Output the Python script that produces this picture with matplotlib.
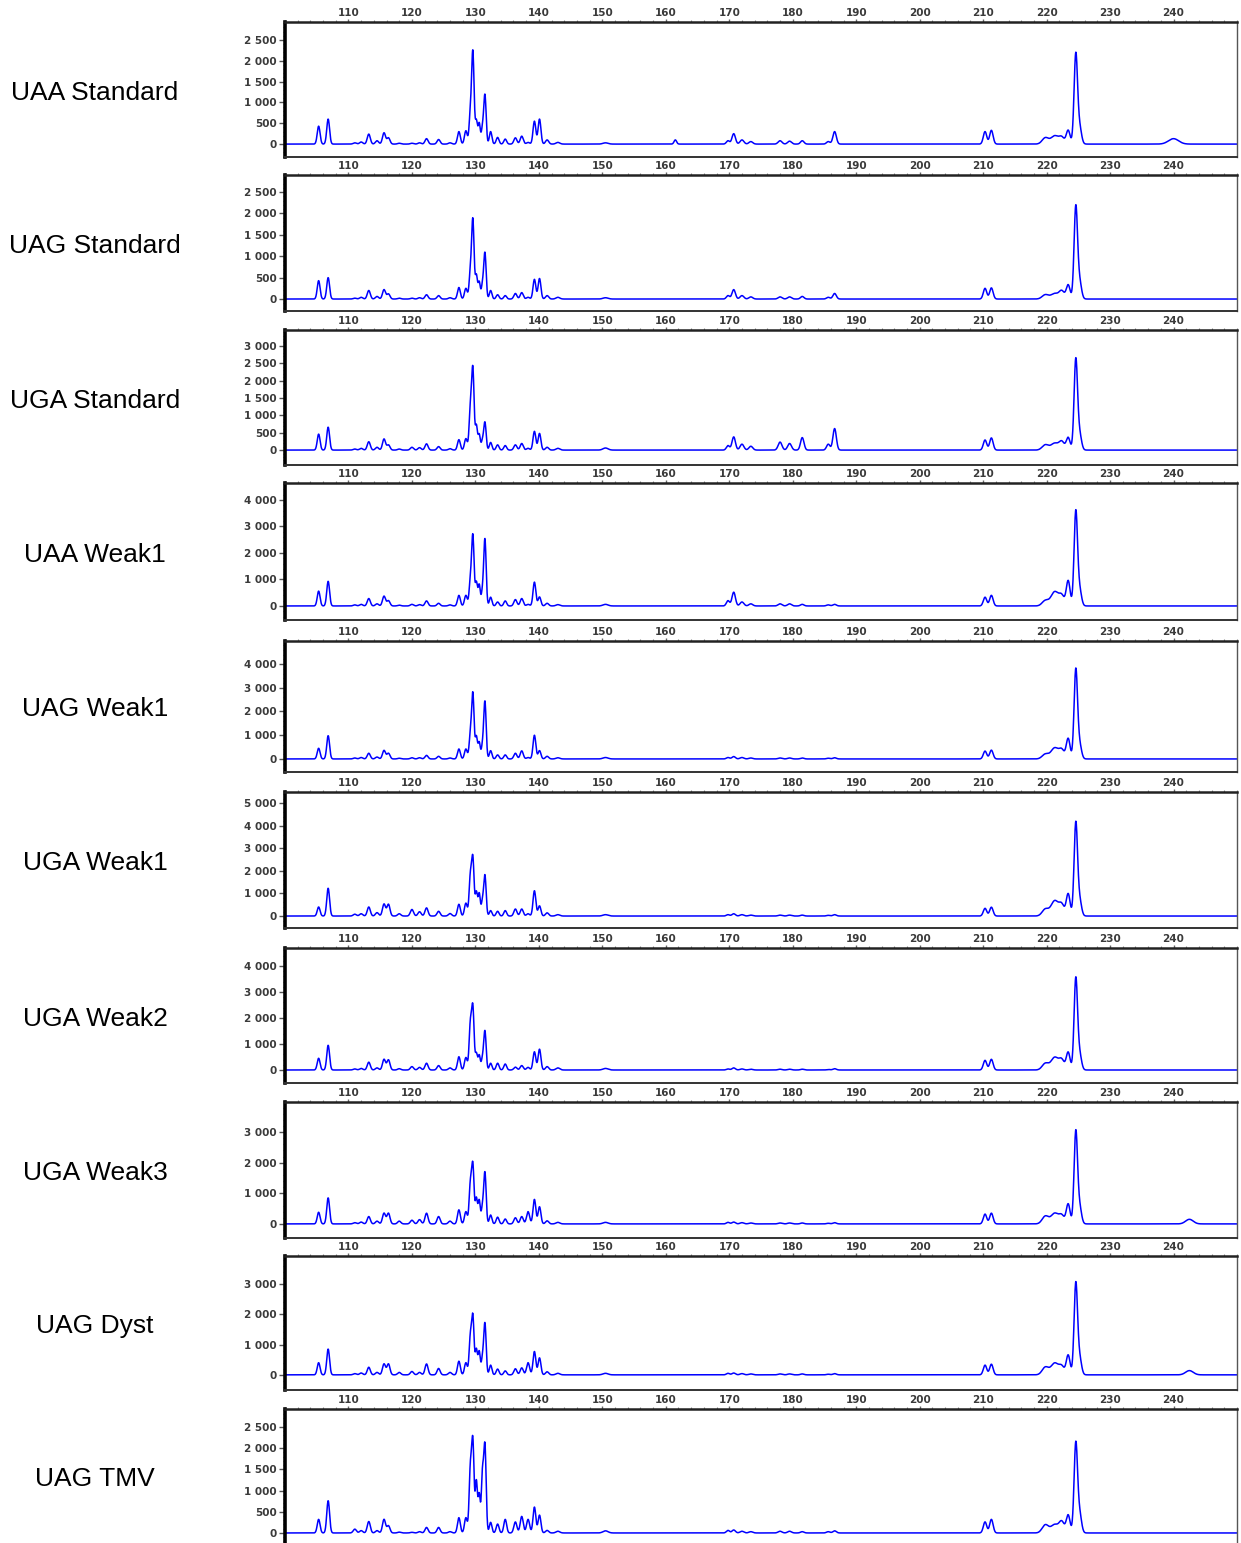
import numpy as np
import matplotlib
matplotlib.use('Agg')
import matplotlib.pyplot as plt
from matplotlib.ticker import MultipleLocator, FuncFormatter

# fragment sizes (bp) of the peaks seen in the capillary traces, and their spread (bp)
sizes = [105.3, 106.8, 111.0, 112.0, 113.2, 114.5, 115.6, 116.3, 118.0, 120.0,
         121.2, 122.3, 124.2, 126.0, 127.4, 128.5, 129.2, 129.6, 130.15, 130.6,
         131.1, 131.5, 132.4, 133.5, 134.7, 136.3, 137.3, 138.3, 139.3, 140.1,
         141.3, 143.0, 150.5, 161.5, 169.8, 170.7, 172.0, 173.4, 178.0, 179.5,
         181.5, 185.6, 186.6, 210.3, 211.3, 219.8, 221.3, 222.4, 223.4, 224.6,
         225.2, 240.0, 242.5]
spread = [0.22, 0.22, 0.25, 0.25, 0.24, 0.25, 0.24, 0.24, 0.25, 0.25,
          0.25, 0.24, 0.24, 0.25, 0.22, 0.22, 0.19, 0.19, 0.17, 0.17,
          0.17, 0.19, 0.2, 0.22, 0.22, 0.24, 0.24, 0.24, 0.22, 0.22,
          0.25, 0.3, 0.4, 0.2, 0.25, 0.27, 0.3, 0.3, 0.3, 0.3,
          0.27, 0.27, 0.27, 0.27, 0.27, 0.5, 0.6, 0.4, 0.3, 0.27,
          0.3, 0.8, 0.6]

samples = ['UAA Standard', 'UAG Standard', 'UGA Standard', 'UAA Weak1', 'UAG Weak1',
           'UGA Weak1', 'UGA Weak2', 'UGA Weak3', 'UAG Dyst', 'UAG TMV']

# peak heights (RFU), one entry per size above
h_uaa_std = [430, 600, 30, 50, 240, 80, 270, 150, 20, 20, 30, 130, 110, 30, 300, 320,
             700, 2180, 550, 500, 350, 1180, 300, 160, 120, 150, 190, 40, 550, 600,
             100, 40, 30, 100, 80, 250, 100, 60, 80, 70, 80, 60, 300, 300, 330,
             150, 200, 150, 330, 2150, 400, 130, 0]
h_uag_std = [430, 500, 20, 40, 200, 60, 220, 120, 20, 20, 30, 100, 80, 30, 270, 250,
             600, 1830, 550, 400, 300, 1080, 200, 100, 80, 130, 150, 40, 460, 480,
             80, 40, 30, 0, 80, 220, 80, 50, 50, 50, 60, 40, 130, 250, 260,
             100, 130, 180, 330, 2150, 400, 0, 0]
h_uga_std = [460, 660, 30, 50, 240, 80, 320, 150, 30, 80, 70, 180, 100, 40, 300, 330,
             1150, 2300, 700, 450, 250, 800, 220, 150, 130, 150, 190, 50, 540, 480,
             80, 50, 60, 0, 130, 380, 170, 110, 230, 190, 360, 170, 620, 290, 350,
             150, 200, 230, 360, 2600, 450, 0, 0]
h_uaa_weak1 = [560, 930, 40, 60, 280, 80, 370, 200, 30, 60, 50, 190, 100, 40, 400, 400,
               900, 2620, 880, 800, 500, 2520, 330, 150, 190, 240, 280, 60, 900, 340,
               100, 50, 60, 0, 200, 520, 150, 80, 80, 80, 60, 40, 60, 330, 400,
               200, 540, 350, 950, 3550, 600, 0, 0]
h_uag_weak1 = [450, 980, 40, 60, 240, 80, 360, 240, 30, 50, 50, 150, 110, 40, 420, 420,
               950, 2720, 930, 700, 500, 2420, 350, 170, 170, 240, 340, 60, 1000, 350,
               110, 50, 60, 0, 60, 100, 60, 40, 40, 40, 40, 30, 50, 330, 370,
               200, 470, 350, 860, 3750, 600, 0, 0]
h_uga_weak1 = [400, 1230, 80, 100, 400, 150, 530, 520, 100, 290, 190, 360, 210, 110, 520, 570,
               1700, 2500, 1050, 1000, 600, 1800, 240, 210, 240, 310, 310, 100, 1120, 450,
               140, 60, 60, 0, 60, 100, 60, 40, 40, 40, 40, 30, 60, 340, 390,
               300, 680, 450, 980, 4100, 700, 0, 0]
h_uga_weak2 = [450, 950, 40, 60, 300, 80, 410, 390, 50, 130, 100, 260, 170, 80, 510, 480,
               1700, 2350, 630, 570, 400, 1500, 260, 260, 230, 110, 170, 100, 700, 800,
               130, 80, 60, 0, 40, 80, 40, 30, 30, 30, 30, 20, 50, 370, 410,
               250, 490, 350, 680, 3500, 600, 0, 0]
h_uga_weak3 = [380, 850, 40, 60, 240, 90, 350, 350, 90, 120, 140, 350, 240, 90, 460, 400,
               1250, 1880, 830, 770, 500, 1680, 290, 220, 160, 200, 240, 400, 800, 560,
               100, 50, 50, 0, 50, 60, 40, 30, 30, 30, 30, 20, 40, 320, 350,
               250, 350, 250, 650, 3000, 550, 0, 150]
h_uag_dyst = [400, 850, 40, 60, 250, 80, 360, 360, 80, 110, 80, 360, 210, 80, 450, 400,
              1200, 1880, 830, 770, 500, 1700, 320, 190, 130, 200, 230, 400, 770, 560,
              100, 50, 50, 0, 50, 60, 40, 30, 30, 30, 30, 20, 40, 320, 350,
              250, 390, 250, 650, 3000, 550, 0, 140]
h_uag_tmv = [320, 760, 90, 55, 270, 55, 320, 170, 20, 15, 30, 130, 130, 30, 360, 360,
             1450, 2100, 1200, 900, 1300, 2050, 250, 210, 320, 260, 390, 320, 610, 420,
             60, 40, 50, 0, 60, 70, 40, 30, 40, 40, 30, 30, 50, 260, 320,
             190, 200, 250, 420, 2100, 450, 0, 0]

heights = [h_uaa_std, h_uag_std, h_uga_std, h_uaa_weak1, h_uag_weak1,
           h_uga_weak1, h_uga_weak2, h_uga_weak3, h_uag_dyst, h_uag_tmv]

# y axis: top major tick and step for each panel
ytop = [2500, 2500, 3000, 4000, 4000, 5000, 4000, 3000, 3000, 2500]
ystep = [500, 500, 500, 1000, 1000, 1000, 1000, 1000, 1000, 500]
ylims = [(-310, 2930), (-280, 2900), (-430, 3460), (-530, 4640), (-550, 4970),
         (-530, 5490), (-500, 4690), (-460, 3980), (-500, 3920), (-260, 2920)]

# panel frames in pixels (top, bottom)
W, H = 1241, 1543
tops = [22, 175, 330, 483, 641, 792, 948, 1102, 1256, 1409]
bottoms = [157, 311, 465, 620, 772, 928, 1083, 1238, 1390, 1544]
x0, x1 = 285, 1237

bp = np.linspace(100, 250, 4000)
mu = np.array(sizes)[:, None]
sd = np.array(spread)[:, None]
kernels = np.exp(-0.5 * ((bp[None, :] - mu) / sd) ** 2)

fig = plt.figure(figsize=(W / 100, H / 100), dpi=100)
tick_font = dict(family='DejaVu Sans', weight='bold', size=7.5)
fmt = FuncFormatter(lambda v, p: '{:,}'.format(int(v)).replace(',', ' '))

for i, name in enumerate(samples):
    ax = fig.add_axes([x0 / W, 1 - bottoms[i] / H, (x1 - x0) / W, (bottoms[i] - tops[i]) / H])
    y = (np.array(heights[i], float)[:, None] * kernels).sum(axis=0)
    ax.plot(bp, y, color='#0000ff', lw=1.1)

    ax.set_xlim(100, 250)
    ax.set_ylim(*ylims[i])
    ax.xaxis.tick_top()
    ax.xaxis.set_minor_locator(MultipleLocator(2))
    ax.set_xticks(np.arange(110, 250, 10))
    ax.set_yticks(np.arange(0, ytop[i] + 1, ystep[i]))
    ax.yaxis.set_minor_locator(MultipleLocator(ystep[i] / 5))
    ax.yaxis.set_major_formatter(fmt)
    ax.tick_params(axis='x', which='major', length=2, width=1, color='#666666',
                   labelcolor='#3a3a3a', pad=1)
    ax.tick_params(axis='y', which='major', length=4, width=1, color='#555555',
                   labelcolor='#3a3a3a', pad=2)
    ax.tick_params(axis='both', which='minor', length=1.5, width=0.8, color='#888888')
    for lab in ax.get_xticklabels() + ax.get_yticklabels():
        lab.set_fontproperties(tick_font)

    ax.spines['left'].set_linewidth(2.6)
    ax.spines['left'].set_color('black')
    ax.spines['top'].set_linewidth(1.8)
    ax.spines['top'].set_color('#222222')
    ax.spines['bottom'].set_linewidth(1.4)
    ax.spines['bottom'].set_color('#333333')
    ax.spines['right'].set_linewidth(1.0)
    ax.spines['right'].set_color('#555555')

    fig.text(95 / W, 1 - ((tops[i] + bottoms[i]) / 2 + 3) / H, name, ha='center', va='center',
             fontsize=19, family='Liberation Sans', color='black')

fig.savefig('out.png', dpi=100, facecolor='white')
